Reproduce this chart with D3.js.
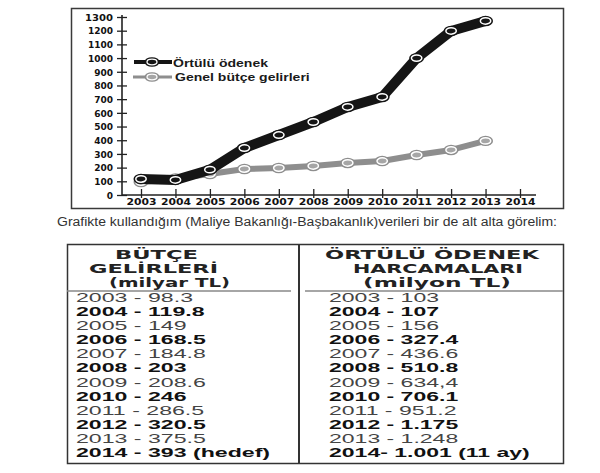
<!DOCTYPE html>
<html><head><meta charset="utf-8">
<script src="https://cdn.jsdelivr.net/npm/d3@7"></script>
<style>body{margin:0;background:#fff}svg{display:block}</style>
</head><body>
<svg id="c" width="600" height="473"></svg>
<script>
const years = [2003,2004,2005,2006,2007,2008,2009,2010,2011,2012,2013];
const axisYears = [2003,2004,2005,2006,2007,2008,2009,2010,2011,2012,2013,2014];
const ortuluOdenek = [117,110,185,343,438,533,643,716,1000,1198,1271];
const genelButce = [95,120,153,190,197,212,234,248,292,329,395];
const yTicks = [0,100,200,300,400,500,600,700,800,900,1000,1100,1200,1300];
const legendLabels = ["Örtülü ödenek","Genel bütçe gelirleri"];
const caption = "Grafikte kullandığım (Maliye Bakanlığı-Başbakanlık)verileri bir de alt alta görelim:";
const budgetHeader = ["BÜTÇE","GELİRLERİ","(milyar TL)"];
const coveredHeader = ["ÖRTÜLÜ ÖDENEK","HARCAMALARI","(milyon TL)"];
const budgetRows = ["2003 - 98.3","2004 - 119.8","2005 - 149","2006 - 168.5","2007 - 184.8","2008 - 203","2009 - 208.6","2010 - 246","2011 - 286.5","2012 - 320.5","2013 - 375.5","2014 - 393 (hedef)"];
const coveredRows = ["2003 - 103","2004 - 107","2005 - 156","2006 - 327.4","2007 - 436.6","2008 - 510.8","2009 - 634,4","2010 - 706.1","2011 - 951.2","2012 - 1.175","2013 - 1.248","2014- 1.001 (11 ay)"];

const svg = d3.select("#c");
const HEAVY = "'DejaVu Sans', sans-serif";
const ARIAL = "'Liberation Sans', Arial, sans-serif";

function fitGroup(sel, refW) {
  const nodes = sel.nodes();
  if (!nodes.length) return;
  const f = refW / nodes[0].getComputedTextLength();
  nodes.forEach(n => {
    const w = n.getComputedTextLength() * f;
    n.setAttribute("textLength", w);
    n.setAttribute("lengthAdjust", "spacingAndGlyphs");
  });
}
function fitOne(node, w) {
  node.setAttribute("textLength", w);
  node.setAttribute("lengthAdjust", "spacingAndGlyphs");
}

// ---------- chart ----------
const x = d3.scaleLinear().domain([2003, 2014]).range([141, 520]);
const y = d3.scaleLinear().domain([0, 1300]).range([195, 17]);

svg.append("rect").attr("x", 71.5).attr("y", 8.5).attr("width", 492).attr("height", 200)
  .attr("fill", "none").attr("stroke", "#3a3a3a").attr("stroke-width", 1.5);

const ya = svg.append("g").attr("transform", "translate(122,0)")
  .call(d3.axisLeft(y).tickValues(yTicks).tickSize(5).tickSizeOuter(0).tickFormat(d3.format("d")));
ya.select(".domain").attr("stroke", "#222").attr("stroke-width", 1.6).attr("d", "M0,15V195");
ya.selectAll(".tick line").attr("x1", 5).attr("stroke", "#222").attr("stroke-width", 1.3);
const ytxt = ya.selectAll(".tick text").attr("x", -9).attr("dy", "0.36em")
  .attr("font-family", HEAVY).attr("font-weight", "bold").attr("font-size", 9).attr("fill", "#111");
fitGroup(ytxt.filter(d => d === 1300).merge(ytxt.filter(d => d !== 1300)), 28);

const xa = svg.append("g").attr("transform", "translate(0,195)")
  .call(d3.axisBottom(x).tickValues(axisYears).tickSize(3).tickSizeOuter(0).tickFormat(d3.format("d")));
xa.select(".domain").attr("stroke", "#222").attr("stroke-width", 1.6).attr("d", "M122,0H536");
xa.selectAll(".tick line").attr("y1", -6).attr("stroke", "#222").attr("stroke-width", 1.3);
const xtxt = xa.selectAll(".tick text").attr("y", 10).attr("dy", 0)
  .attr("font-family", HEAVY).attr("font-weight", "bold").attr("font-size", 9).attr("fill", "#111");
fitGroup(xtxt, 30);

const line = d3.line().x((d, i) => x(years[i])).y(d => y(d));

svg.append("path").datum(genelButce).attr("d", line).attr("fill", "none")
  .attr("stroke", "#8e8e8e").attr("stroke-width", 6).attr("stroke-linejoin", "round").attr("stroke-linecap", "round");
function markers(data, outer, inner) {
  const g = svg.append("g");
  const m = g.selectAll("g").data(data).join("g")
    .attr("transform", (d, i) => `translate(${x(years[i])},${y(d)})`);
  m.append("ellipse").attr("rx", 7.5).attr("ry", 5.2).attr("fill", outer);
  m.append("ellipse").attr("rx", 5.2).attr("ry", 3.2).attr("fill", inner).attr("stroke", "#fff").attr("stroke-width", 1.5);
}
markers(genelButce, "#8e8e8e", "#a6a6a6");

svg.append("path").datum(ortuluOdenek).attr("d", line).attr("fill", "none")
  .attr("stroke", "#151515").attr("stroke-width", 10).attr("stroke-linejoin", "round").attr("stroke-linecap", "round");
markers(ortuluOdenek, "#151515", "#151515");

const lg = svg.append("g");
lg.append("line").attr("x1", 134).attr("x2", 172).attr("y1", 62).attr("y2", 62).attr("stroke", "#151515").attr("stroke-width", 4);
lg.append("ellipse").attr("cx", 152).attr("cy", 62).attr("rx", 7.5).attr("ry", 4.8).attr("fill", "#151515");
lg.append("ellipse").attr("cx", 152).attr("cy", 62).attr("rx", 5).attr("ry", 2.8).attr("fill", "#151515").attr("stroke", "#fff").attr("stroke-width", 1.3);
lg.append("line").attr("x1", 133).attr("x2", 172).attr("y1", 77).attr("y2", 77).attr("stroke", "#8e8e8e").attr("stroke-width", 3);
lg.append("ellipse").attr("cx", 152).attr("cy", 77).attr("rx", 7.5).attr("ry", 4.8).attr("fill", "#8e8e8e");
lg.append("ellipse").attr("cx", 152).attr("cy", 77).attr("rx", 5).attr("ry", 2.8).attr("fill", "#a6a6a6").attr("stroke", "#fff").attr("stroke-width", 1.3);
const lt = lg.selectAll("text.lg").data(legendLabels).join("text").attr("class", "lg")
  .attr("x", (d, i) => i ? 175 : 173).attr("y", (d, i) => i ? 81 : 66.5)
  .attr("font-family", ARIAL).attr("font-weight", "bold").attr("font-size", 11).attr("fill", "#1a1a1a")
  .text(d => d);
fitGroup(lt, 95);

// ---------- caption ----------
const cap = svg.append("text").attr("x", 57).attr("y", 226)
  .attr("font-family", ARIAL).attr("font-size", 12.5).attr("fill", "#333").text(caption);
fitOne(cap.node(), 500);

// ---------- table ----------
svg.append("rect").attr("x", 67.5).attr("y", 244.5).attr("width", 496).attr("height", 219)
  .attr("fill", "none").attr("stroke", "#333").attr("stroke-width", 1.5);
svg.append("line").attr("x1", 299).attr("x2", 299).attr("y1", 244).attr("y2", 464).attr("stroke", "#333").attr("stroke-width", 2);
svg.append("line").attr("x1", 67).attr("x2", 291).attr("y1", 291).attr("y2", 291).attr("stroke", "#888").attr("stroke-width", 1.3);
svg.append("line").attr("x1", 305).attr("x2", 563).attr("y1", 291).attr("y2", 291).attr("stroke", "#888").attr("stroke-width", 1.3);

const headY = d3.scaleLinear().domain([0, 2]).range([259, 287]);
const leftHeadX = [115, 89, 109], leftHeadW = [83, 129, 121];
const rightHeadX = [325, 353, 363], rightHeadW = [214, 170, 148];
function header(data, xs, ws) {
  svg.append("g").selectAll("text").data(data).join("text")
    .attr("x", (d, i) => xs[i]).attr("y", (d, i) => headY(i))
    .attr("font-family", HEAVY).attr("font-weight", "bold").attr("font-size", 12.5).attr("fill", "#222")
    .text(d => d)
    .each(function (d, i) { fitOne(this, ws[i]); });
}
header(budgetHeader, leftHeadX, leftHeadW);
header(coveredHeader, rightHeadX, rightHeadW);

const rowY = d3.scaleLinear().domain([0, 11]).range([302, 457]);
function rows(data, x0, refW) {
  const t = svg.append("g").selectAll("text").data(data).join("text")
    .attr("x", x0).attr("y", (d, i) => rowY(i))
    .attr("font-family", ARIAL).attr("font-size", 13.5)
    .attr("font-weight", (d, i) => i % 2 ? "bold" : "normal")
    .attr("fill", (d, i) => i % 2 ? "#111" : "#444")
    .text(d => d);
  fitGroup(t, refW);
}
rows(budgetRows, 76, 117);
rows(coveredRows, 329, 110);
</script>
</body></html>
